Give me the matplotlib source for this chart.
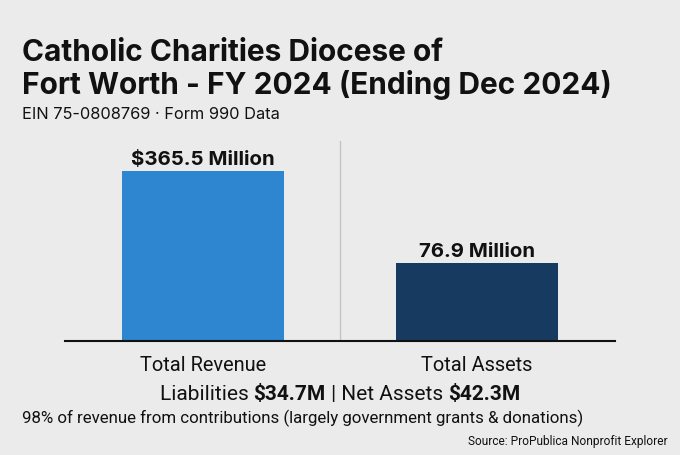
import matplotlib
matplotlib.use("Agg")
import matplotlib.pyplot as plt

# ---- data ----
categories = ["Total Revenue", "Total Assets"]
values_musd = [365.5, 76.9]
value_labels = ["$365.5 Million", "76.9 Million"]
liabilities_musd = 34.7
net_assets_musd = 42.3
title_lines = ["Catholic Charities Diocese of", "Fort Worth - FY 2024 (Ending Dec 2024)"]
subtitle = "EIN 75-0808769 \u00b7 Form 990 Data"
note = "98% of revenue from contributions (largely government grants & donations)"
source = "Source: ProPublica Nonprofit Explorer"

# ---- style ----
BG = "#ebebeb"
BAR_COLORS = ["#2e86d0", "#173b60"]
TXT = "#111111"
FONT = ["Roboto", "DejaVu Sans"]
TFONT = ["Inter", "Roboto", "DejaVu Sans"]
plt.rcParams["font.family"] = FONT

W, H = 680, 456
fig = plt.figure(figsize=(W / 100, H / 100), dpi=100, facecolor=BG)

def fx(px):
    return px / W

def fy(py):
    return (H - py) / H

ax = fig.add_axes([fx(65), fy(342), fx(615) - fx(65), fy(142) - fy(342)])
ax.set_facecolor(BG)
ax.set_yscale("log")
Y_FLOOR, Y_TOP = 20.5, 607
x = list(range(len(categories)))
heights = [v - Y_FLOOR for v in values_musd]
ax.bar(x, heights, bottom=Y_FLOOR, width=0.59, color=BAR_COLORS, zorder=2)
ax.set_ylim(Y_FLOOR, Y_TOP)
ax.set_xlim(-0.504, 1.504)
ax.axvline(0.5, color="#c4c4c4", lw=1.0, zorder=1)

for xi, v, lab in zip(x, values_musd, value_labels):
    ax.annotate(lab, (xi, v), xytext=(0, 5), textcoords="offset points",
                ha="center", va="baseline", fontsize=14.7, fontweight="bold",
                color=TXT, family=TFONT)

for s in ["top", "left", "right"]:
    ax.spines[s].set_visible(False)
ax.spines["bottom"].set_color("#111111")
ax.spines["bottom"].set_linewidth(1.5)
ax.set_yticks([])
ax.yaxis.set_minor_locator(matplotlib.ticker.NullLocator())
ax.set_xticks(x)
ax.set_xticklabels(categories, fontsize=14.4, color=TXT)
ax.tick_params(axis="x", length=0, pad=10)

# titles
fig.text(fx(22), fy(61), title_lines[0], fontsize=21.5, fontweight="bold", color=TXT,
         va="baseline", family=TFONT)
fig.text(fx(22), fy(94), title_lines[1], fontsize=21.5, fontweight="bold", color=TXT,
         va="baseline", family=TFONT)
fig.text(fx(22), fy(119), subtitle, fontsize=11.8, color=TXT, va="baseline", family=TFONT)

# liabilities line (mixed weights), centered at x=340
pieces = [("Liabilities ", "normal"), (f"${liabilities_musd:.1f}M", "bold"),
          (" | Net Assets ", "normal"), (f"${net_assets_musd:.1f}M", "bold")]
fig.canvas.draw()
renderer = fig.canvas.get_renderer()
arts = []
for txt, wgt in pieces:
    t = fig.text(0, fy(400), txt, fontsize=15, fontweight=wgt, color=TXT, va="baseline")
    arts.append(t)
widths = [a.get_window_extent(renderer).width for a in arts]
total = sum(widths)
cur = 340 - total / 2
for a, w in zip(arts, widths):
    a.set_x(fx(cur))
    cur += w

fig.text(fx(22), fy(423), note, fontsize=12.2, color=TXT, va="baseline")
fig.text(fx(668), fy(445), source, fontsize=8.6, color=TXT, va="baseline", ha="right")

fig.savefig("out.png", dpi=100, facecolor=BG)
